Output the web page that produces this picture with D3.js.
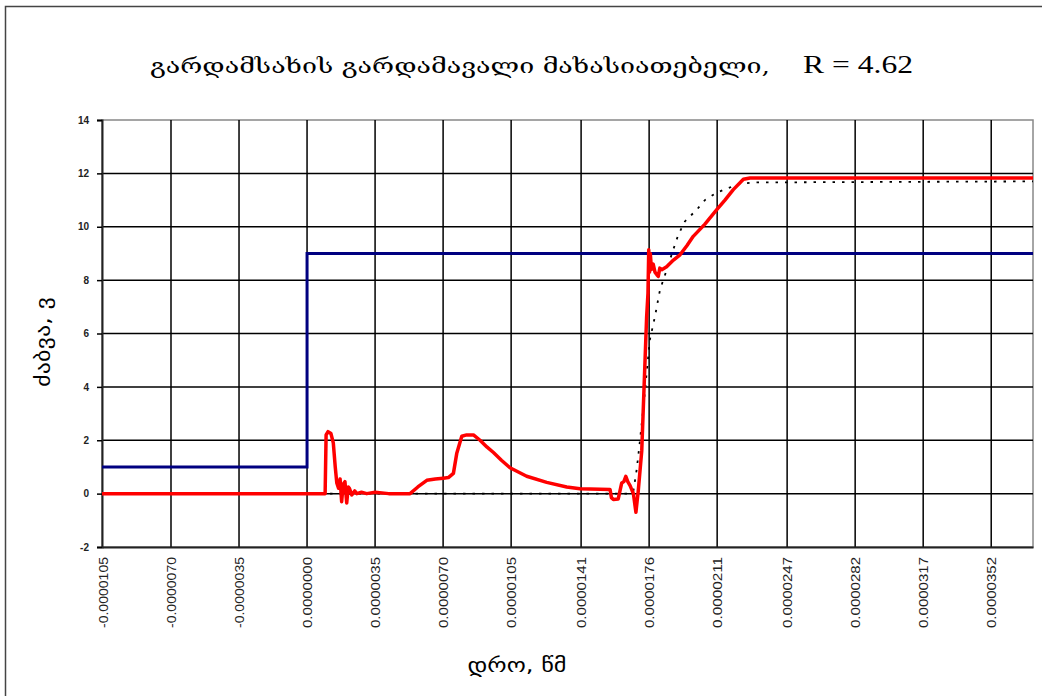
<!DOCTYPE html>
<html>
<head>
<meta charset="utf-8">
<script src="https://cdn.jsdelivr.net/npm/d3@7"></script>
<style>
  body { margin: 0; background: #fff; }
  svg { display: block; }
</style>
</head>
<body>
<script>
// time in microseconds, voltage in volts
const tickTimes = [-10.5, -7.0, -3.5, 0, 3.5, 7.0, 10.5, 14.1, 17.6, 21.1, 24.7, 28.2, 31.7, 35.2];
const tickLabels = ['-0.0000105', '-0.0000070', '-0.0000035', '0.0000000', '0.0000035', '0.0000070',
  '0.0000105', '0.0000141', '0.0000176', '0.0000211', '0.0000247', '0.0000282', '0.0000317', '0.0000352'];
const yTicks = [-2, 0, 2, 4, 6, 8, 10, 12, 14];

const inputStep = [[-10.55, 1], [0, 1], [0, 9], [37.35, 9]];

const response = [
  [-10.55, 0], [0.93, 0], [0.98, 2.2], [1.08, 2.32], [1.23, 2.25], [1.35, 1.9], [1.45, 1.0],
  [1.53, 0.4], [1.62, 0.2], [1.70, 0.55], [1.78, -0.3], [1.86, 0.35], [1.95, 0.45], [2.04, -0.35],
  [2.12, 0.25], [2.18, 0.2], [2.30, -0.05], [2.45, 0.1], [2.56, 0.0], [2.8, 0.05], [3.07, 0.0],
  [3.5, 0.05], [4.2, 0.0], [5.3, 0.0], [5.7, 0.25], [6.16, 0.5], [6.6, 0.55], [7.01, 0.58],
  [7.27, 0.6], [7.53, 0.76], [7.70, 1.5], [7.96, 2.15], [8.21, 2.2], [8.56, 2.2], [8.90, 2.0],
  [9.25, 1.75], [9.59, 1.54], [10.0, 1.25], [10.44, 0.97], [11.30, 0.65], [12.33, 0.42],
  [13.36, 0.25], [14.04, 0.18], [15.59, 0.15], [15.66, -0.15], [15.76, -0.22], [16.01, -0.2],
  [16.10, 0.1], [16.19, 0.4], [16.30, 0.45], [16.40, 0.65], [16.50, 0.45], [16.62, 0.3],
  [16.79, 0.0], [16.92, -0.7], [16.98, -0.3], [17.04, 0.1], [17.22, 1.6], [17.39, 5.0],
  [17.47, 6.6], [17.54, 7.5], [17.58, 9.14], [17.62, 8.3], [17.66, 9.0], [17.72, 8.4],
  [17.81, 8.6], [17.90, 8.3], [18.00, 8.2], [18.07, 8.14], [18.15, 8.45], [18.25, 8.39],
  [18.50, 8.5], [18.85, 8.75], [19.19, 8.95], [19.55, 9.3], [19.87, 9.64], [20.47, 10.1],
  [21.08, 10.64], [21.5, 11.0], [21.93, 11.39], [22.45, 11.78], [22.79, 11.83], [37.35, 11.83]
];

const model = [
  [-10.55, 0], [16.6, 0], [16.79, 0.1], [16.96, 0.9], [17.13, 2.0], [17.30, 3.2], [17.47, 4.5],
  [17.64, 5.77], [17.90, 6.64], [18.16, 7.64], [18.42, 8.2], [18.84, 9.14], [19.10, 9.7],
  [19.44, 10.2], [20.05, 10.64], [20.47, 11.0], [21.08, 11.28], [21.67, 11.45], [22.27, 11.61],
  [22.94, 11.66], [37.35, 11.7]
];

const W = 1042, H = 696;
const plot = { left: 102, right: 1033, top: 120, bottom: 547 };

const svg = d3.select('body').append('svg')
  .attr('width', W)
  .attr('height', H);

// outer chart frame (only top/left visible in the picture)
svg.append('rect')
  .attr('x', 5.5).attr('y', 6.5)
  .attr('width', 1100).attr('height', 800)
  .attr('fill', 'none')
  .attr('stroke', '#444')
  .attr('stroke-width', 1.5);

const x = d3.scaleLinear().domain([-10.55, 37.35]).range([plot.left, plot.right]);
const y = d3.scaleLinear().domain([-2, 14]).range([plot.bottom, plot.top]);

// plot border
svg.append('rect')
  .attr('x', plot.left).attr('y', plot.top)
  .attr('width', plot.right - plot.left).attr('height', plot.bottom - plot.top)
  .attr('fill', 'none')
  .attr('stroke', '#888')
  .attr('stroke-width', 1.5);

// grid
svg.append('g')
  .selectAll('line')
  .data(yTicks.filter(d => d > -2 && d < 14))
  .join('line')
  .attr('x1', plot.left).attr('x2', plot.right)
  .attr('y1', d => y(d)).attr('y2', d => y(d))
  .attr('stroke', '#000')
  .attr('stroke-width', 1.5);

svg.append('g')
  .selectAll('line')
  .data(tickTimes.slice(1))
  .join('line')
  .attr('x1', d => x(d)).attr('x2', d => x(d))
  .attr('y1', plot.top).attr('y2', plot.bottom)
  .attr('stroke', '#000')
  .attr('stroke-width', 1.5);

// y axis
const yAxis = svg.append('g')
  .attr('transform', `translate(${plot.left},0)`)
  .call(d3.axisLeft(y).tickValues(yTicks).tickSize(5).tickPadding(8).tickFormat(d => String(d)));
yAxis.select('.domain').attr('stroke', '#222').attr('stroke-width', 2);
yAxis.selectAll('.tick line').attr('stroke', '#000').attr('stroke-width', 1.5);
yAxis.selectAll('text')
  .attr('font-family', 'Liberation Sans, Arial, sans-serif')
  .attr('font-size', 10)
  .attr('font-weight', 'bold')
  .attr('fill', '#222');

// x axis
const xAxis = svg.append('g')
  .attr('transform', `translate(0,${plot.bottom})`)
  .call(d3.axisBottom(x).tickValues(tickTimes).tickSize(0).tickFormat((d, i) => tickLabels[i]));
xAxis.select('.domain').attr('stroke', '#222').attr('stroke-width', 2);
xAxis.selectAll('text')
  .attr('transform', 'rotate(-90)')
  .attr('text-anchor', 'end')
  .attr('x', -10)
  .attr('y', 0)
  .attr('dy', '0.35em')
  .attr('font-family', 'Liberation Sans, Arial, sans-serif')
  .attr('font-size', 13)
  .attr('fill', '#222')
  .attr('textLength', 71)
  .attr('lengthAdjust', 'spacingAndGlyphs');

const line = d3.line().x(d => x(d[0])).y(d => y(d[1]));

svg.append('path')
  .datum(inputStep)
  .attr('d', line)
  .attr('fill', 'none')
  .attr('stroke', '#000080')
  .attr('stroke-width', 3);

svg.append('path')
  .datum(model)
  .attr('d', line)
  .attr('fill', 'none')
  .attr('stroke', '#000')
  .attr('stroke-width', 1.8)
  .attr('stroke-dasharray', '2.5,7');

svg.append('path')
  .datum(response)
  .attr('d', line)
  .attr('fill', 'none')
  .attr('stroke', '#ff0000')
  .attr('stroke-width', 3.5)
  .attr('stroke-linejoin', 'round');

// titles
svg.append('text')
  .attr('x', 150).attr('y', 73)
  .attr('font-family', 'DejaVu Serif, DejaVu Sans, serif')
  .attr('font-size', 21)
  .attr('textLength', 620)
  .attr('lengthAdjust', 'spacingAndGlyphs')
  .text('გარდამსახის გარდამავალი მახასიათებელი,');

svg.append('text')
  .attr('x', 803).attr('y', 73)
  .attr('font-family', 'Liberation Serif, Times New Roman, serif')
  .attr('font-size', 26)
  .attr('textLength', 110)
  .attr('lengthAdjust', 'spacingAndGlyphs')
  .text('R = 4.62');

svg.append('text')
  .attr('transform', 'translate(50,342) rotate(-90)')
  .attr('text-anchor', 'middle')
  .attr('font-family', 'DejaVu Sans, sans-serif')
  .attr('font-size', 19)
  .attr('textLength', 90)
  .attr('lengthAdjust', 'spacingAndGlyphs')
  .text('ძაბვა, ვ');

svg.append('text')
  .attr('x', 517).attr('y', 672)
  .attr('text-anchor', 'middle')
  .attr('font-family', 'DejaVu Sans, sans-serif')
  .attr('font-size', 19)
  .attr('textLength', 99)
  .attr('lengthAdjust', 'spacingAndGlyphs')
  .text('დრო, წმ');
</script>
</body>
</html>
